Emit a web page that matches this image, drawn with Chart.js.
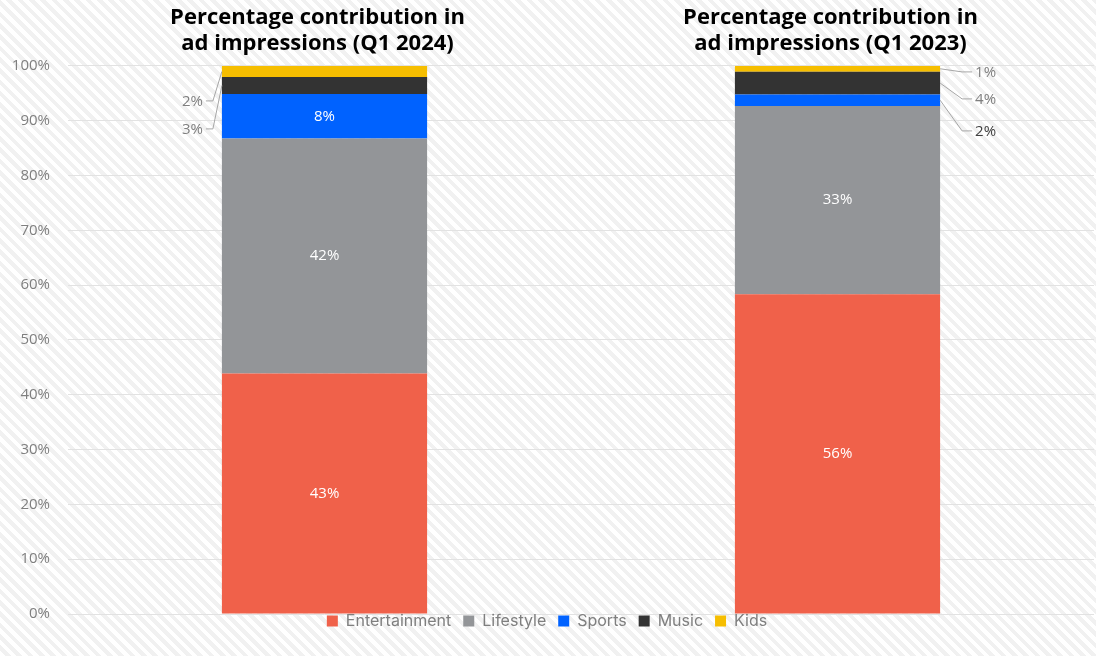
<!DOCTYPE html>
<html lang="en">
<head>
    <meta charset="UTF-8">
    <title>Ad impressions by genre</title>
    <script src="https://cdn.jsdelivr.net/npm/chart.js"></script>
    <style>
        html, body { margin: 0; padding: 0; }
        body {
            width: 1096px;
            height: 656px;
            overflow: hidden;
            /* light diagonal stripes behind the chart */
            background: repeating-linear-gradient(45deg, #ffffff 0px, #ffffff 4px, #f1f1f1 4px, #f1f1f1 8px);
        }
        canvas { display: block; }
    </style>
</head>
<body>
    <canvas id="impressionsChart" width="1096" height="656"></canvas>

    <script>
        // Periods shown as the two bars
        const periods = [
            ['Percentage contribution in', 'ad impressions (Q1 2024)'],
            ['Percentage contribution in', 'ad impressions (Q1 2023)']
        ];

        // Genre share of impressions, in % (as labelled; each bar is scaled to 100%)
        const entertainment = [43, 56];
        const lifestyle = [42, 33];
        const sports = [8, 2];
        const music = [3, 4];
        const kids = [2, 1];

        const genres = ['Entertainment', 'Lifestyle', 'Sports', 'Music', 'Kids'];
        const genreColors = ['#f0614a', '#939598', '#0062ff', '#333333', '#f6be00'];
        const yTicks = [0, 10, 20, 30, 40, 50, 60, 70, 80, 90, 100];

        const series = [entertainment, lifestyle, sports, music, kids];
        const totals = periods.map((_, i) => series.reduce((s, arr) => s + arr[i], 0));

        // Thin segments get their label outside the bar with a leader line
        const callouts = [
            { side: 'left', elbow: 9, reach: 16, rows: { Kids: 35, Music: 63 } },
            { side: 'right', elbow: 22, reach: 32, rows: { Kids: 6, Music: 33, Sports: 65 } }
        ];

        const valueLabels = {
            id: 'valueLabels',
            afterDatasetsDraw(chart) {
                const ctx = chart.ctx;
                const top = chart.chartArea.top;
                ctx.save();
                ctx.font = '15px "Open Sans", sans-serif';
                ctx.textBaseline = 'middle';
                chart.data.datasets.forEach((ds, di) => {
                    const meta = chart.getDatasetMeta(di);
                    meta.data.forEach((bar, i) => {
                        const text = ds.raw[i] + '%';
                        const layout = callouts[i];
                        const row = layout.rows[ds.label];
                        const midY = (bar.y + bar.base) / 2;
                        if (row === undefined) {
                            ctx.fillStyle = '#ffffff';
                            ctx.textAlign = 'center';
                            ctx.fillText(text, bar.x, midY);
                            return;
                        }
                        const dir = layout.side === 'left' ? -1 : 1;
                        const edge = bar.x + dir * bar.width / 2;
                        const ly = top + row;
                        ctx.strokeStyle = '#a6a6a6';
                        ctx.lineWidth = 1;
                        ctx.beginPath();
                        ctx.moveTo(edge, midY);
                        ctx.lineTo(edge + dir * layout.elbow, ly);
                        ctx.lineTo(edge + dir * layout.reach, ly);
                        ctx.stroke();
                        ctx.fillStyle = (i === 1 && ds.label === 'Sports') ? '#404040' : '#7f7f7f';
                        ctx.textAlign = layout.side === 'left' ? 'right' : 'left';
                        ctx.fillText(text, edge + dir * (layout.reach + 3), ly + 1);
                    });
                });
                ctx.restore();
            }
        };

        // Tuck the legend up against the plot's bottom edge
        const legendLift = {
            id: 'legendLift',
            afterLayout(chart) {
                chart.legend.top -= 13;
                chart.legend.bottom -= 13;
            }
        };

        const ctx = document.getElementById('impressionsChart').getContext('2d');
        new Chart(ctx, {
            type: 'bar',
            data: {
                labels: periods,
                datasets: genres.map((g, k) => ({
                    label: g,
                    raw: series[k],
                    data: series[k].map((v, i) => v / totals[i] * 100),
                    backgroundColor: genreColors[k],
                    borderWidth: 0,
                    barPercentage: 0.4,
                    categoryPercentage: 1.0
                }))
            },
            options: {
                responsive: false,
                animation: false,
                layout: { padding: { left: 0, right: 2, top: 4, bottom: 4 } },
                scales: {
                    x: {
                        stacked: true,
                        position: 'top',
                        grid: { display: false },
                        border: { display: false },
                        ticks: {
                            color: '#000000',
                            padding: 1,
                            labelOffset: -7,
                            maxRotation: 0,
                            font: { family: 'Open Sans', size: 22, weight: 'bold', lineHeight: 1.18 }
                        }
                    },
                    y: {
                        stacked: true,
                        min: 0,
                        max: 100,
                        afterBuildTicks(axis) {
                            axis.ticks = yTicks.map(v => ({ value: v }));
                        },
                        afterFit(axis) {
                            axis.width = 68;
                        },
                        grid: { color: '#e2e2e2', drawTicks: false },
                        border: { display: false },
                        ticks: {
                            color: '#7f7f7f',
                            padding: 18,
                            font: { family: 'Open Sans', size: 15 },
                            callback: v => v + '%'
                        }
                    }
                },
                plugins: {
                    tooltip: { enabled: false },
                    legend: {
                        position: 'bottom',
                        labels: {
                            color: '#7f7f7f',
                            boxWidth: 11,
                            boxHeight: 11,
                            padding: 12,
                            font: { family: 'Inter', size: 16 }
                        }
                    }
                }
            },
            plugins: [valueLabels, legendLift]
        });
    </script>
</body>
</html>
